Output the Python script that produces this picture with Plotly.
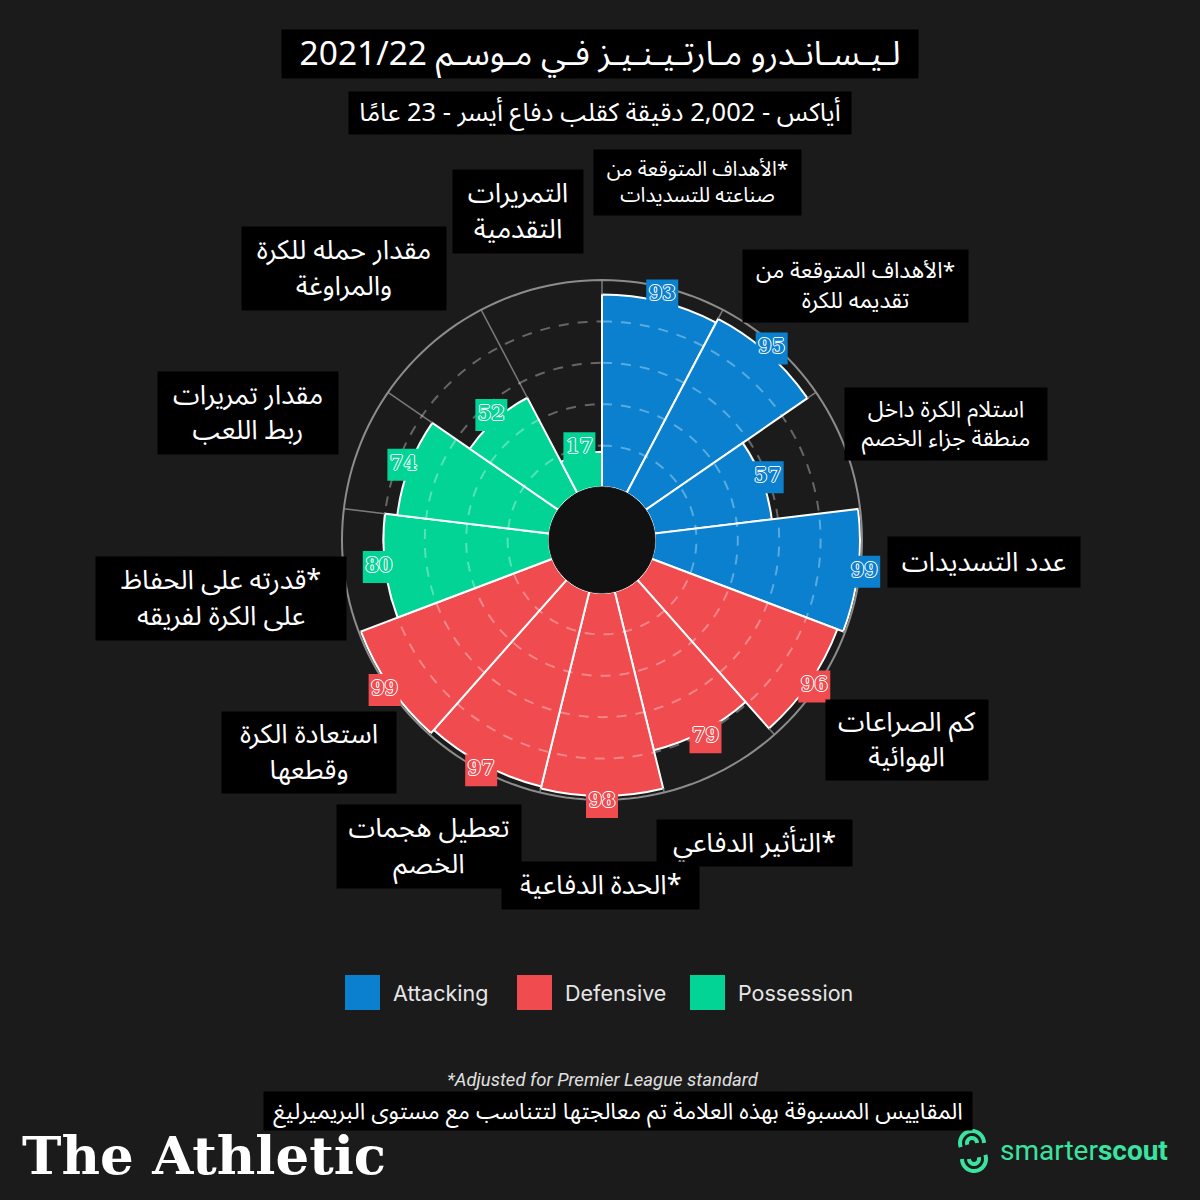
import math
import plotly.graph_objects as go

# Lisandro Martinez 2021/22 - smarterscout style radar (polar bars)
metrics = [
    "\u200f*الأهداف المتوقعة من<br>صناعته للتسديدات",
    "\u200f*الأهداف المتوقعة من<br>تقديمه للكرة",
    "استلام الكرة داخل<br>منطقة جزاء الخصم",
    "عدد التسديدات",
    "كم الصراعات<br>الهوائية",
    "\u200f*التأثير الدفاعي",
    "\u200f*الحدة الدفاعية",
    "تعطيل هجمات<br>الخصم",
    "استعادة الكرة<br>وقطعها",
    "\u200f*قدرته على الحفاظ<br>على الكرة لفريقه",
    "مقدار تمريرات<br>ربط اللعب",
    "مقدار حمله للكرة<br>والمراوغة",
    "التمريرات<br>التقدمية",
]
values = [93, 95, 57, 99, 96, 79, 98, 97, 99, 80, 74, 52, 17]
groups = ["Attacking", "Attacking", "Attacking", "Attacking",
          "Defensive", "Defensive", "Defensive", "Defensive", "Defensive",
          "Possession", "Possession", "Possession", "Possession"]
group_names = ["Attacking", "Defensive", "Possession"]
grid_levels = [20, 40, 60, 80]

title = "لـيـسـانـدرو مـارتـيـنـيـز فـي مـوسـم 2021/22"
subtitle = "أياكس - 2,002 دقيقة كقلب دفاع أيسر - 23 عامًا"
footnote_en = "*Adjusted for Premier League standard"
footnote_ar = "المقاييس المسبوقة بهذه العلامة تم معالجتها لتتناسب مع مستوى البريميرليغ"

colors = {"Attacking": "#0a80ce", "Defensive": "#f04b4f", "Possession": "#02d496"}
BG = "#1b1b1b"
AR_FONT = "Noto Sans Arabic, DejaVu Sans, sans-serif"

n = len(values)
step = 360 / n
theta = [(i + 0.5) * step for i in range(n)]


def P(x, y):
    # pixel -> paper
    return x / 1200, 1 - y / 1200


fig = go.Figure()

ring_theta = [k * 2 for k in range(181)]

# bars
for g in group_names:
    idx = [i for i in range(n) if groups[i] == g]
    fig.add_trace(go.Barpolar(
        r=[values[i] for i in idx],
        theta=[theta[i] for i in idx],
        width=[step] * len(idx),
        marker=dict(color=colors[g], line=dict(color="white", width=2)),
        name=g, showlegend=False, hoverinfo="skip",
    ))

# spokes: only the part not covered by the taller neighbouring bar
spoke_r, spoke_t = [], []
for i in range(n):
    top = max(values[i - 1], values[i])
    spoke_r += [top, 100, None]
    spoke_t += [i * step, i * step, None]
fig.add_trace(go.Scatterpolar(
    r=spoke_r, theta=spoke_t, mode="lines",
    line=dict(color="#7a7a7a", width=1.5),
    showlegend=False, hoverinfo="skip",
))

# outer ring
fig.add_trace(go.Scatterpolar(
    r=[100] * len(ring_theta), theta=ring_theta, mode="lines",
    line=dict(color="#8c8c8c", width=2),
    showlegend=False, hoverinfo="skip",
))

# dashed rings, drawn over the bars
for lv in grid_levels:
    fig.add_trace(go.Scatterpolar(
        r=[lv] * len(ring_theta), theta=ring_theta, mode="lines",
        line=dict(color="rgba(255,255,255,0.33)", width=2, dash="10px,9px"),
        showlegend=False, hoverinfo="skip",
    ))

# black centre disk
fig.add_trace(go.Scatterpolar(
    r=[0] * len(ring_theta), theta=ring_theta, mode="lines", fill="toself",
    fillcolor="#111111", line=dict(color="#111111", width=1),
    showlegend=False, hoverinfo="skip",
))

# value tags
fig.add_trace(go.Scatterpolar(
    r=[v + 3 for v in values], theta=theta, mode="markers+text",
    text=[str(v) for v in values], textposition="middle center",
    marker=dict(symbol="square", size=32, color=[colors[g] for g in groups]),
    textfont=dict(family="DejaVu Serif", size=19.5, weight="bold",
                  color=[colors[g] for g in groups],
                  shadow="1px 0 0 #fff, -1px 0 0 #fff, 0 1px 0 #fff, 0 -1px 0 #fff"),
    cliponaxis=False, showlegend=False, hoverinfo="skip",
))

# radial geometry: hole 53px, r=100 at 260px, centre (602, 540)
px_per = (260 - 53) / 100
rmin = -53 / px_per
rmax = 106
R = 53 + px_per * rmax
cx0, cy0 = 602, 540

fig.update_layout(
    width=1200, height=1200,
    margin=dict(l=0, r=0, t=0, b=0),
    paper_bgcolor=BG,
    polar=dict(
        domain=dict(x=[(cx0 - R) / 1200, (cx0 + R) / 1200],
                    y=[1 - (cy0 + R) / 1200, 1 - (cy0 - R) / 1200]),
        bgcolor=BG,
        barmode="overlay",
        radialaxis=dict(range=[rmin, rmax], showticklabels=False, ticks="",
                        showgrid=False, showline=False),
        angularaxis=dict(rotation=90, direction="clockwise",
                         showticklabels=False, ticks="",
                         showgrid=False, showline=False),
    ),
)

# metric name boxes: centre x, centre y, width, height, font size
label_boxes = [
    (697, 183, 207, 65, 20.5),
    (855, 286, 225, 72, 22.5),
    (946, 424, 202, 72, 23),
    (984, 562, 192, 50, 27),
    (907, 740, 162, 80, 27),
    (754, 843, 195, 46, 27),
    (600, 885, 197, 47, 27),
    (429, 846, 184, 83, 27),
    (309, 752, 174, 81, 27),
    (221, 598, 250, 83, 27),
    (248, 413, 180, 82, 27),
    (344, 269, 204, 83, 27),
    (518, 212, 130, 83, 27),
]


def box(txt, cx, cy, w, h, fs):
    x, y = P(cx, cy)
    return dict(x=x, y=y, xref="paper", yref="paper", text=txt, showarrow=False,
                xanchor="center", yanchor="middle",
                bgcolor="black", width=w, height=h, borderpad=0, align="center",
                valign="middle", font=dict(family=AR_FONT, size=fs, color="white"))


annotations = [box(txt, *b) for txt, b in zip(metrics, label_boxes)]

# title boxes
annotations.append(box(title, 600, 54, 636, 48, 33.5))
annotations.append(box(subtitle, 600, 113, 502, 42, 25.5))
annotations.append(box(footnote_ar, 618, 1111, 708, 38, 23))

x, y = P(603, 1080)
annotations.append(dict(x=x, y=y, xref="paper", yref="paper", text="<i>" + footnote_en + "</i>",
                        showarrow=False, xanchor="center", yanchor="middle",
                        font=dict(family="Roboto", size=18.5, color="#e0e0e0")))

# legend
shapes = []
legend_pos = [345, 517, 690]
for g, lx in zip(group_names, legend_pos):
    x0, y0 = P(lx, 975)
    x1, y1 = P(lx + 35, 1010)
    shapes.append(dict(type="rect", xref="paper", yref="paper", x0=x0, y0=y1, x1=x1, y1=y0,
                       fillcolor=colors[g], line=dict(width=0)))
    tx, ty = P(lx + 46, 993)
    annotations.append(dict(x=tx, y=ty, xref="paper", yref="paper", text=g, showarrow=False,
                            xanchor="left", yanchor="middle",
                            font=dict(family="Inter", size=21.5, color="#e6e6e6")))

# logos
x, y = P(20, 1155)
annotations.append(dict(x=x, y=y, xref="paper", yref="paper", text="<b>The Athletic</b>",
                        showarrow=False, xanchor="left", yanchor="middle",
                        font=dict(family="DejaVu Serif", size=53, color="white")))
x, y = P(998, 1150)
annotations.append(dict(x=x, y=y, xref="paper", yref="paper", text="smarter<b>scout</b>",
                        showarrow=False, xanchor="left", yanchor="middle",
                        font=dict(family="Roboto", size=28, color="#3be3a0")))


def arc_path(cx, cy, r, a0, a1, k=24):
    pts = []
    for j in range(k + 1):
        a = math.radians(a0 + (a1 - a0) * j / k)
        pts.append(P(cx + r * math.cos(a), cy - r * math.sin(a)))
    return "M " + " L ".join(f"{px:.5f},{py:.5f}" for px, py in pts)


for (cx, cy, r, a0, a1) in [(972, 1143, 12, 0, 200), (972, 1143, 5, 0, 200),
                            (974, 1159, 12, 180, 380), (974, 1159, 5, 180, 380)]:
    shapes.append(dict(type="path", xref="paper", yref="paper", path=arc_path(cx, cy, r, a0, a1),
                       line=dict(color="#3be3a0", width=4)))

fig.update_layout(annotations=annotations, shapes=shapes)

fig.write_html("out.html", config={"displayModeBar": False},
               post_script="document.body.style.margin='0';")
